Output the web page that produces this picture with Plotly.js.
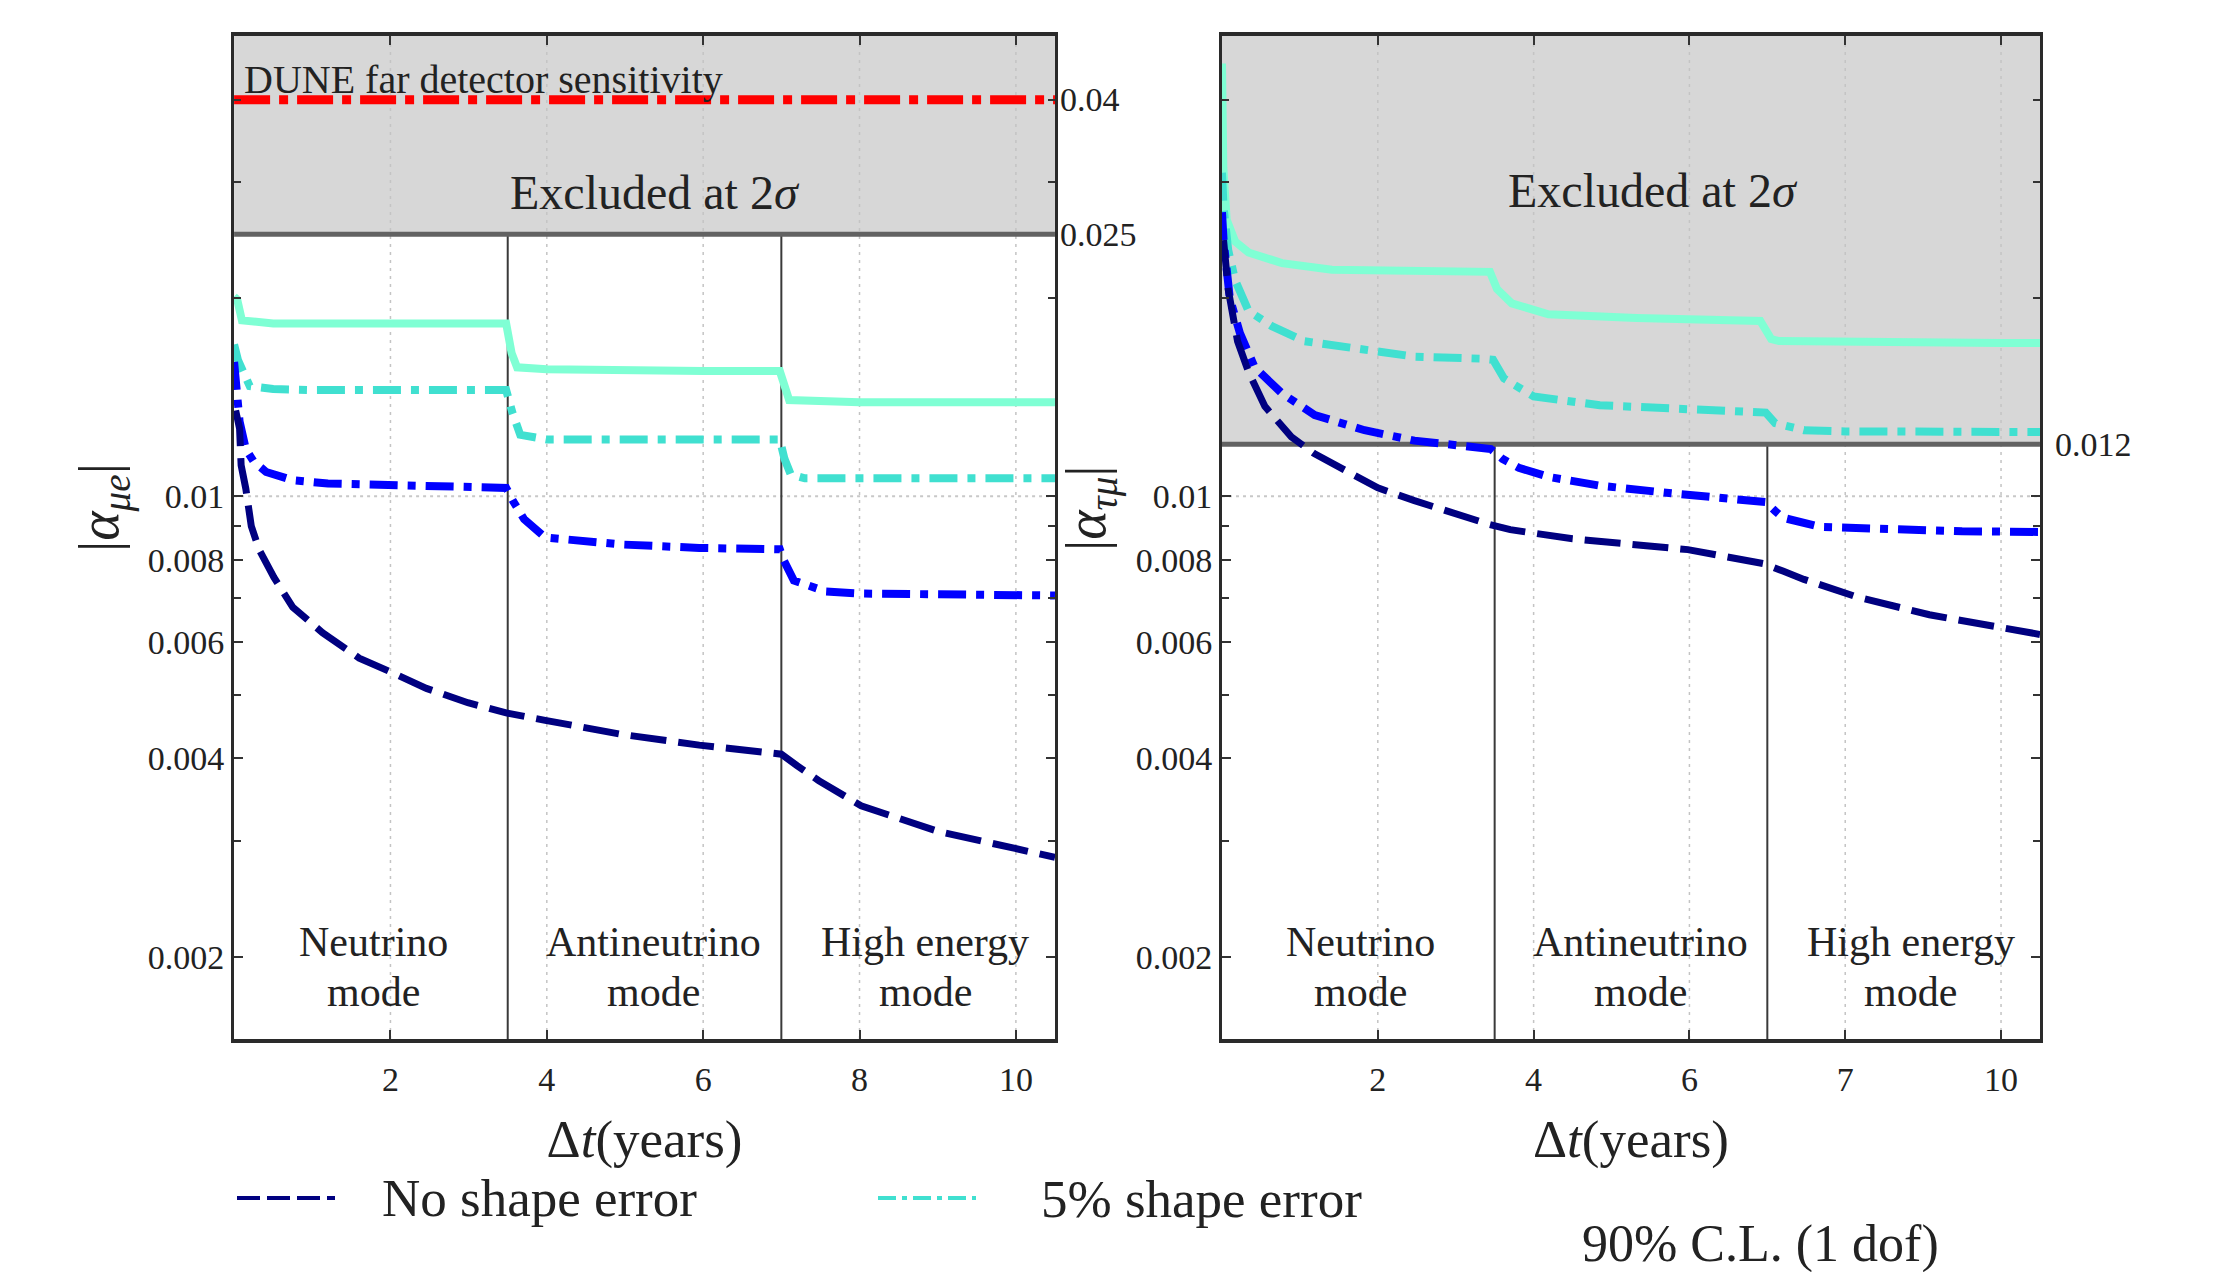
<!DOCTYPE html>
<html><head><meta charset="utf-8">
<script src="https://cdn.plot.ly/plotly-3.0.1.min.js"></script>
<style>html,body{margin:0;padding:0;background:#fff;}#chart{width:2221px;height:1272px;}</style>
</head><body><div id="chart"></div>
<script>
// ---------- data ----------
const xTickVals = [2, 4, 6, 8, 10];
const xTickTextLeft = ['2', '4', '6', '8', '10'];
const xTickTextRight = ['2', '4', '6', '7', '10'];
const yTickVals = [0.002, 0.004, 0.006, 0.008, 0.01];
const yTickText = ['0.002', '0.004', '0.006', '0.008', '0.01'];
const yMinorTickVals = [0.003, 0.005, 0.007, 0.009, 0.02, 0.03, 0.04];
const modeBoundaries = [3.5, 7];
const modeNames = [['Neutrino', 'mode'], ['Antineutrino', 'mode'], ['High energy', 'mode']];
const excludedLeft = 0.025;
const excludedRight = 0.012;
const gridLevel = 0.01;
const duneSensitivity = 0.04;
const tSpan = [0, 10.5];
const yMin = 0.0015, yMax = 0.05;

// left panel |alpha_mu e|
const meAquaT = [0, 0.04, 0.1, 0.5, 1, 2, 3, 3.48, 3.55, 3.62, 4, 5, 6, 6.98, 7.04, 7.1, 8, 9, 10, 10.5];
const meAquaV = [0.0201, 0.0199, 0.0185, 0.0183, 0.0183, 0.0183, 0.0183, 0.0183, 0.0165, 0.0157, 0.0156, 0.0155, 0.0155, 0.0155, 0.0146, 0.0140, 0.0139, 0.0139, 0.0139, 0.0139];
const meTurqT = [0, 0.05, 0.2, 0.5, 1, 2, 3, 3.48, 3.56, 3.66, 4, 5, 6, 6.98, 7.04, 7.12, 7.3, 8, 9, 10, 10.5];
const meTurqV = [0.0170, 0.0161, 0.0147, 0.01455, 0.0145, 0.0145, 0.0145, 0.0145, 0.0134, 0.0124, 0.0122, 0.0122, 0.0122, 0.0122, 0.0114, 0.0108, 0.01065, 0.01065, 0.01065, 0.01065, 0.01065];
const meBlueT = [0, 0.03, 0.07, 0.15, 0.25, 0.41, 0.75, 1.2, 2, 3, 3.48, 3.57, 3.71, 3.98, 4.5, 4.96, 5.95, 6.98, 7.03, 7.16, 7.57, 8, 9, 10, 10.5];
const meBlueV = [0.0160, 0.0147, 0.0130, 0.0118, 0.0113, 0.01089, 0.01058, 0.01046, 0.01039, 0.01033, 0.0103, 0.00983, 0.00923, 0.00866, 0.00852, 0.00845, 0.00835, 0.00831, 0.0080, 0.00745, 0.00717, 0.00712, 0.0071, 0.00708, 0.00707];
const meNavyT = [0.02, 0.07, 0.09, 0.15, 0.22, 0.32, 0.51, 0.75, 1.13, 1.6, 1.99, 2.46, 2.99, 3.48, 3.98, 4.96, 5.95, 6.85, 7.0, 7.2, 7.48, 8.02, 9.0, 9.99, 10.5];
const meNavyV = [0.0135, 0.01268, 0.01115, 0.01027, 0.00901, 0.0083, 0.00753, 0.00679, 0.00621, 0.00568, 0.00542, 0.00511, 0.00486, 0.00469, 0.00457, 0.00435, 0.00419, 0.00408, 0.00406, 0.0039, 0.0037, 0.00339, 0.0031, 0.00292, 0.00283];

// right panel |alpha_tau mu|
const tmAquaT = [0, 0.017, 0.06, 0.17, 0.34, 0.77, 1.41, 2.47, 3.44, 3.53, 3.72, 4.19, 5.32, 6.91, 7.05, 7.15, 8, 9, 10, 10.5];
const tmAquaV = [0.0454, 0.0316, 0.0263, 0.02436, 0.02346, 0.0226, 0.02208, 0.02196, 0.02192, 0.02064, 0.01963, 0.0189, 0.01866, 0.01846, 0.01733, 0.01721, 0.01715, 0.01712, 0.0171, 0.0171];
const tmTurqT = [0, 0.02, 0.08, 0.17, 0.34, 0.64, 1.06, 1.62, 2.0, 2.47, 3.34, 3.48, 3.62, 4.0, 4.85, 6.82, 6.98, 7.1, 7.47, 8, 9, 10.5];
const tmTurqV = [0.031, 0.0275, 0.02364, 0.02127, 0.01913, 0.01813, 0.0172, 0.0168, 0.01655, 0.0163, 0.01618, 0.01612, 0.0151, 0.01418, 0.01375, 0.0135, 0.0134, 0.01292, 0.0126, 0.01255, 0.01253, 0.01252];
const tmBlueT = [0, 0.02, 0.1, 0.23, 0.42, 0.77, 1.19, 1.83, 2.47, 3.0, 3.45, 3.6, 3.81, 4.2, 4.85, 5.8, 6.82, 6.98, 7.1, 7.2, 7.67, 8.5, 9.5, 10.5];
const tmBlueV = [0.027, 0.0245, 0.0200, 0.0177, 0.0157, 0.01433, 0.01329, 0.0126, 0.01215, 0.01195, 0.0118, 0.0114, 0.01105, 0.0107, 0.01038, 0.0101, 0.00988, 0.0098, 0.0095, 0.00928, 0.00899, 0.0089, 0.00885, 0.00883];
const tmNavyT = [0.02, 0.08, 0.2, 0.34, 0.55, 0.89, 1.19, 1.62, 2.0, 2.47, 3.0, 3.44, 3.7, 4.5, 5.98, 6.96, 7.2, 7.47, 8.14, 9.08, 10.5];
const tmNavyV = [0.0245, 0.0206, 0.0172, 0.01546, 0.0137, 0.01231, 0.0116, 0.01091, 0.0103, 0.00985, 0.0094, 0.00906, 0.0089, 0.00862, 0.0083, 0.0079, 0.0077, 0.00748, 0.00704, 0.00661, 0.00617];

// ---------- styles ----------
const FONT = 'Liberation Serif, Times New Roman, serif';
const TXT = '#222';
const C_NAVY = '#000080', C_BLUE = '#0000ff', C_TURQ = '#40e0d0', C_AQUA = '#7fffd4';
const DASH_NAVY = '36px,12px';
const DASH_DOT = '28px,10px,8px,10px';

function tr(x, y, color, dash, width, xa, ya, name) {
  return {x: x, y: y, type: 'scatter', mode: 'lines', name: name, showlegend: false,
    xaxis: xa, yaxis: ya, hoverinfo: 'skip',
    line: {color: color, width: width, dash: dash}};
}

const traces = [];
function panelBackground(xa, ya, level) {
  // excluded region (grey) above the level
  traces.push({x: [tSpan[0], tSpan[1], tSpan[1], tSpan[0]], y: [level, level, yMax, yMax],
    type: 'scatter', mode: 'lines', fill: 'toself', fillcolor: '#d7d7d7', line: {width: 0, color: '#d7d7d7'},
    xaxis: xa, yaxis: ya, showlegend: false, hoverinfo: 'skip', name: 'Excluded at 2σ'});
  // dotted vertical grid at x ticks
  xTickVals.forEach(v => traces.push(tr([v, v], [yMin, yMax], '#c4c4c4', '3px,5px', 1.5, xa, ya, 'grid')));
  // dotted horizontal grid at 0.01
  traces.push(tr(tSpan, [gridLevel, gridLevel], '#c8c8c8', '3px,4px', 2, xa, ya, 'grid'));
  // mode boundaries
  modeBoundaries.forEach(b => traces.push(tr([b, b], [yMin, level], '#3a3a3a', 'solid', 2, xa, ya, 'mode boundary')));
  // excluded boundary
  traces.push(tr(tSpan, [level, level], '#626262', 'solid', 5, xa, ya, 'excluded boundary'));
}
panelBackground('x', 'y', excludedLeft);
panelBackground('x2', 'y2', excludedRight);

traces.push(
  tr(meAquaT, meAquaV, C_AQUA, 'solid', 8, 'x', 'y', '10% shape error'),
  tr(meTurqT, meTurqV, C_TURQ, DASH_DOT, 8, 'x', 'y', '5% shape error'),
  tr(meBlueT, meBlueV, C_BLUE, DASH_DOT, 8, 'x', 'y', '2% shape error'),
  tr(meNavyT, meNavyV, C_NAVY, DASH_NAVY, 7, 'x', 'y', 'No shape error'),
  tr(tSpan, [duneSensitivity, duneSensitivity], '#ff0000', '36px,9px,9px,9px', 9, 'x', 'y', 'DUNE far detector sensitivity'),
  tr(tmAquaT, tmAquaV, C_AQUA, 'solid', 8, 'x2', 'y2', '10% shape error'),
  tr(tmTurqT, tmTurqV, C_TURQ, DASH_DOT, 8, 'x2', 'y2', '5% shape error'),
  tr(tmBlueT, tmBlueV, C_BLUE, DASH_DOT, 8, 'x2', 'y2', '2% shape error'),
  tr(tmNavyT, tmNavyV, C_NAVY, DASH_NAVY, 7, 'x2', 'y2', 'No shape error')
);

const L = Math.log10;
const yRange = [L(yMin), L(yMax)];
const yDomain = [0.1832, 0.9717];

function xAxis(domain, anchor, ticktext) {
  return {domain: domain, anchor: anchor, range: tSpan, tickvals: xTickVals, ticktext: ticktext,
    ticks: 'inside', ticklen: 9, tickwidth: 2, tickcolor: '#333', mirror: 'ticks',
    showline: true, linewidth: 4, linecolor: '#2a2a2a', showgrid: false, zeroline: false, ticklabelstandoff: 7,
    tickfont: {family: FONT, size: 34, color: TXT},
    title: {text: 'Δ<i>t</i>(years)', font: {family: FONT, size: 53, color: TXT}, standoff: 24}};
}
function yAxis(anchor) {
  return {domain: yDomain, anchor: anchor, type: 'log', range: yRange, tickvals: yTickVals, ticktext: yTickText,
    ticks: 'inside', ticklen: 9, tickwidth: 2, tickcolor: '#333', mirror: 'ticks',
    minor: {tickvals: yMinorTickVals, ticks: 'inside', ticklen: 7, tickwidth: 2, tickcolor: '#333', showgrid: false},
    showline: true, linewidth: 3, linecolor: '#2a2a2a', showgrid: false, zeroline: false,
    tickfont: {family: FONT, size: 34, color: TXT}};
}

// legend samples (manual legend)
const legY = 1 - 1198 / 1272;
const shapes = [
  {type: 'line', xref: 'paper', yref: 'paper', x0: 237 / 2221, x1: 335 / 2221, y0: legY, y1: legY, line: {color: C_NAVY, width: 4, dash: '23px,7px'}},
  {type: 'line', xref: 'paper', yref: 'paper', x0: 878 / 2221, x1: 976 / 2221, y0: legY, y1: legY, line: {color: C_TURQ, width: 4, dash: '18px,6px,5px,6px'}}
];

const annotations = [];
function ann(o) { annotations.push(Object.assign({showarrow: false, font: {family: FONT, size: 42, color: TXT}}, o)); }

// y axis titles
ann({xref: 'paper', yref: 'paper', x: 103 / 2221, y: 1 - 508 / 1272, xanchor: 'center', yanchor: 'middle', textangle: -90, text: '|<i>α</i><sub><i>μe</i></sub>|', font: {family: FONT, size: 56, color: TXT}});
ann({xref: 'paper', yref: 'paper', x: 1090 / 2221, y: 1 - 508 / 1272, xanchor: 'center', yanchor: 'middle', textangle: -90, text: '|<i>α</i><sub><i>τμ</i></sub>|', font: {family: FONT, size: 56, color: TXT}});

// mode labels
const modeCenters = [1.78, 5.37, 8.84];
['x', 'x2'].forEach(xr => {
  modeNames.forEach((m, i) => {
    ann({xref: xr, yref: 'paper', x: modeCenters[i], y: 1 - 942 / 1272, text: m[0], xanchor: 'center', yanchor: 'middle'});
    ann({xref: xr, yref: 'paper', x: modeCenters[i], y: 1 - 992 / 1272, text: m[1], xanchor: 'center', yanchor: 'middle'});
  });
});
// excluded labels
ann({xref: 'x', yref: 'paper', x: 5.39, y: 1 - 193 / 1272, yanchor: 'middle', text: 'Excluded at 2<i>σ</i>', font: {family: FONT, size: 48, color: TXT}});
ann({xref: 'x2', yref: 'paper', x: 5.53, y: 1 - 190 / 1272, yanchor: 'middle', text: 'Excluded at 2<i>σ</i>', font: {family: FONT, size: 48, color: TXT}});
ann({xref: 'x', yref: 'paper', x: 0.1, y: 1 - 79 / 1272, xanchor: 'left', yanchor: 'middle', text: 'DUNE far detector sensitivity', font: {family: FONT, size: 40, color: TXT}});
// right-side level labels
ann({xref: 'paper', yref: 'y', x: 1058 / 2221, y: L(duneSensitivity), xanchor: 'left', yanchor: 'middle', text: '0.04', font: {family: FONT, size: 34, color: TXT}});
ann({xref: 'paper', yref: 'y', x: 1058 / 2221, y: L(excludedLeft), xanchor: 'left', yanchor: 'middle', text: '0.025', font: {family: FONT, size: 34, color: TXT}});
ann({xref: 'paper', yref: 'y2', x: 2053 / 2221, y: L(excludedRight), xanchor: 'left', yanchor: 'middle', text: '0.012', font: {family: FONT, size: 34, color: TXT}});
// legend texts and CL note
ann({xref: 'paper', yref: 'paper', x: 380 / 2221, y: legY, xanchor: 'left', yanchor: 'middle', text: 'No shape error', font: {family: FONT, size: 53, color: TXT}});
ann({xref: 'paper', yref: 'paper', x: 1039 / 2221, y: 1 - 1199 / 1272, xanchor: 'left', yanchor: 'middle', text: '5% shape error', font: {family: FONT, size: 53, color: TXT}});
ann({xref: 'paper', yref: 'paper', x: 1580 / 2221, y: 1 - 1244 / 1272, xanchor: 'left', yanchor: 'middle', text: '90% C.L. (1 dof)', font: {family: FONT, size: 52, color: TXT}});

const layout = {
  width: 2221, height: 1272, margin: {l: 0, r: 0, t: 0, b: 0},
  paper_bgcolor: '#ffffff', plot_bgcolor: '#ffffff',
  font: {family: FONT, color: TXT}, showlegend: false,
  xaxis: xAxis([0.1054, 0.4750], 'y', xTickTextLeft),
  yaxis: yAxis('x'),
  xaxis2: xAxis([0.5502, 0.9185], 'y2', xTickTextRight),
  yaxis2: yAxis('x2'),
  shapes: shapes, annotations: annotations
};

Plotly.newPlot('chart', traces, layout, {displayModeBar: false, staticPlot: true});
</script></body></html>
